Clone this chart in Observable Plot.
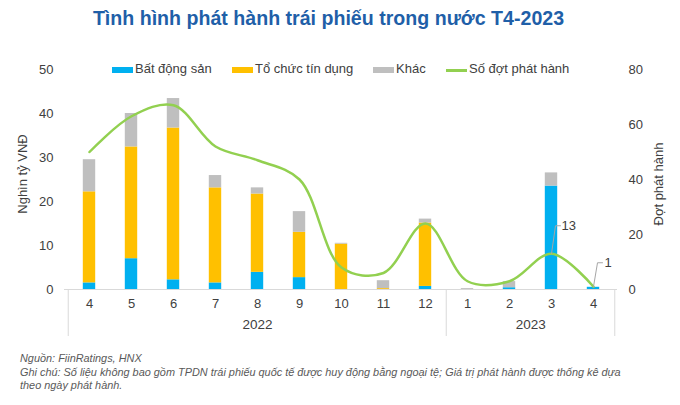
<!DOCTYPE html>
<html><head><meta charset="utf-8">
<script src="https://cdn.jsdelivr.net/npm/d3@7"></script>
<script src="https://cdn.jsdelivr.net/npm/@observablehq/plot@0.6"></script>
<style>
body{margin:0;background:#fff;font-family:"Liberation Sans",Arial,sans-serif;}
#wrap{position:relative;width:680px;height:405px;overflow:hidden;background:#fff;}
#title{position:absolute;left:0;width:657px;top:7px;text-align:center;font-weight:bold;font-size:19.6px;color:#1f5fa8;white-space:nowrap;}
#chart{position:absolute;left:0;top:0;}
.leg{position:absolute;top:61px;font-size:13px;color:#404040;white-space:nowrap;}
.sw{position:absolute;top:6px;width:21px;height:6px;}
.ax{position:absolute;font-size:13px;color:#404040;white-space:nowrap;transform:translate(-50%,-50%) rotate(-90deg);}
#note{position:absolute;left:20px;top:352px;font-size:10.9px;font-style:italic;color:#595959;line-height:13.5px;white-space:nowrap;}
</style></head><body>
<div id="wrap">
  <div id="title">Tình hình phát hành trái phiếu trong nước T4-2023</div>
  <div id="chart"></div>
  <div id="legend"></div>
  <div class="ax" style="left:22px;top:174px;">Nghìn tỷ VNĐ</div>
  <div class="ax" style="left:658px;top:184px;">Đợt phát hành</div>
  <div id="note">Nguồn: FiinRatings, HNX<br>Ghi chú: Số liệu không bao gồm TPDN trái phiếu quốc tế được huy động bằng ngoại tệ; Giá trị phát hành được thống kê dựa<br>theo ngày phát hành.</div>
</div>
<script>
// ---- data ----
const months = [4, 5, 6, 7, 8, 9, 10, 11, 12, 1, 2, 3, 4];
const years = [2022, 2022, 2022, 2022, 2022, 2022, 2022, 2022, 2022, 2023, 2023, 2023, 2023];
const batDongSan = [1.5, 7.0, 2.2, 1.5, 3.9, 2.7, 0, 0, 0.7, 0, 0.4, 23.5, 0.5];
const toChucTinDung = [20.7, 25.4, 34.5, 21.6, 17.8, 10.3, 10.3, 0.2, 14.4, 0, 0, 0, 0];
const khac = [7.3, 7.6, 6.7, 2.8, 1.4, 4.7, 0.2, 1.8, 0.9, 0.2, 1.4, 3.0, 0];
const soDotPhatHanh = [50, 63, 67, 52, 47, 40, 8, 6, 24, 3, 3, 13, 1];
const seriesNames = ["Bất động sản", "Tổ chức tín dụng", "Khác"];
const lineName = "Số đợt phát hành";
const seriesColors = ["#00b0f0", "#ffc000", "#bfbfbf"];
const lineColor = "#92d050";
const leftTicks = [0, 10, 20, 30, 40, 50];
const rightTicks = [0, 20, 40, 60, 80];
const leftMax = 50, rightMax = 80;
const labeledKeys = ["2023-3", "2023-4"];

// ---- build tables ----
const keys = months.map((m, i) => `${years[i]}-${m}`);
const seriesValues = [batDongSan, toChucTinDung, khac];
const barRows = [];
seriesNames.forEach((s, j) => keys.forEach((k, i) => barRows.push({key: k, series: s, value: seriesValues[j][i]})));
const lineRows = keys.map((k, i) => ({key: k, value: soDotPhatHanh[i]}));
const toLeft = v => v * leftMax / rightMax;
const labelRows = lineRows.filter(d => labeledKeys.includes(d.key));
const yearGroups = d3.groups(keys.map((k, i) => ({key: k, year: years[i]})), d => d.year);

const W = 680, H = 345, mL = 64, mR = 63;
const step = (W - mL - mR) / keys.length;
const grey = "#d9d9d9";
const fs = 13;

const yearMarks = yearGroups.map(([yr, arr]) => {
  const mid = (arr.length - 1) / 2;
  const k = arr[Math.floor(mid)].key;
  const off = (mid - Math.floor(mid)) * step;
  return Plot.text([String(yr)], {x: () => k, frameAnchor: "bottom", dy: 39, dx: off, fontSize: 13.5, fill: "#404040"});
});

const leader = (len) => ({draw(ctx) { ctx.moveTo(0, 0); ctx.lineTo(4, -len); ctx.lineTo(9, -len); }});

const chart = Plot.plot({
  width: W, height: H,
  marginTop: 69, marginBottom: 56, marginLeft: mL, marginRight: mR,
  style: {fontFamily: "Liberation Sans, Arial, sans-serif", fontSize: "13px", color: "#404040", background: "transparent"},
  x: {type: "band", domain: keys, padding: 0, axis: null},
  y: {domain: [0, leftMax], axis: null},
  color: {domain: seriesNames, range: seriesColors},
  marks: [
    Plot.barY(barRows, Plot.stackY({x: "key", y: "value", fill: "series", order: seriesNames, insetLeft: 14.8, insetRight: 14.8})),
    Plot.ruleY([0], {stroke: grey, strokeWidth: 1}),
    Plot.ruleX([keys[0], yearGroups[1][1][0].key], {dx: -step / 2, stroke: grey, insetTop: 220, insetBottom: -47}),
    Plot.ruleX([keys[keys.length - 1]], {dx: step / 2, stroke: grey, insetTop: 220, insetBottom: -47}),
    Plot.axisX({tickSize: 0, tickPadding: 9, tickFormat: k => k.split("-")[1], fontSize: fs, label: null}),
    ...yearMarks,
    Plot.axisY(leftTicks, {anchor: "left", tickSize: 0, tickPadding: 11, label: null, fontSize: fs}),
    Plot.axisY(rightTicks.map(toLeft), {anchor: "right", tickSize: 0, tickPadding: 11, label: null, fontSize: fs, tickFormat: v => Math.round(v * rightMax / leftMax)}),
    Plot.line(lineRows, {x: "key", y: d => toLeft(d.value), stroke: lineColor, strokeWidth: 2.5, curve: "catmull-rom"}),
    Plot.vector(labelRows.slice(0, 1), {x: "key", y: d => toLeft(d.value), length: 28, anchor: "start", shape: leader(28), stroke: "#a6a6a6", strokeWidth: 1}),
    Plot.vector(labelRows.slice(1, 2), {x: "key", y: d => toLeft(d.value), length: 24, anchor: "start", shape: leader(24), stroke: "#a6a6a6", strokeWidth: 1}),
    Plot.text(labelRows.slice(0, 1), {x: "key", y: d => toLeft(d.value), text: d => String(d.value), dx: 10, dy: -28, textAnchor: "start", fontSize: fs, fill: "#404040"}),
    Plot.text(labelRows.slice(1, 2), {x: "key", y: d => toLeft(d.value), text: d => String(d.value), dx: 11, dy: -24, textAnchor: "start", fontSize: fs, fill: "#404040"})
  ]
});
document.getElementById("chart").appendChild(chart);

// legend
const legendItems = [
  {name: seriesNames[0], color: seriesColors[0], left: 112, type: "box"},
  {name: seriesNames[1], color: seriesColors[1], left: 232, type: "box"},
  {name: seriesNames[2], color: seriesColors[2], left: 373, type: "box"},
  {name: lineName, color: lineColor, left: 446, type: "line"}
];
const leg = document.getElementById("legend");
legendItems.forEach(it => {
  const d = document.createElement("div");
  d.className = "leg";
  d.style.left = it.left + "px";
  d.style.paddingLeft = "23px";
  const sw = document.createElement("span");
  sw.className = "sw";
  sw.style.left = "0px";
  sw.style.background = it.color;
  if (it.type === "line") { sw.style.height = "2.5px"; sw.style.top = "8px"; }
  d.appendChild(sw);
  d.appendChild(document.createTextNode(it.name));
  leg.appendChild(d);
});
</script>
</body></html>
